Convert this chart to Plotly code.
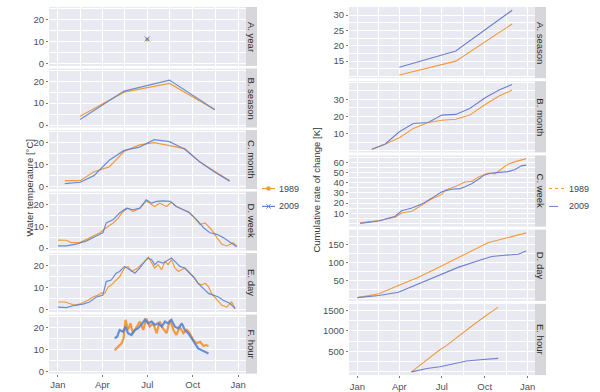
import plotly.graph_objects as go

# ---------------- data (day of year, values) ----------------
month_ticks = [0, 90, 181, 273, 365]
month_labels = ["Jan", "Apr", "Jul", "Oct", "Jan"]
month_minor = [45, 135, 227, 319]
series_names = ["1989", "2009"]

# Left: water temperature [°C]
year_days = [181]
year_1989 = [11.0]
year_2009 = [11.2]

season_days = [45, 134, 226, 318]
season_1989 = [4.0, 15.0, 19.0, 7.0]
season_2009 = [2.5, 15.5, 20.5, 7.0]

month_days = [14, 45, 73, 104, 134, 165, 195, 226, 257, 287, 318, 348]
month_1989 = [2.7, 2.7, 6.8, 9.0, 16.0, 19.0, 20.0, 18.6, 17.3, 11.3, 6.8, 2.7]
month_2009 = [1.4, 2.0, 5.0, 12.0, 16.5, 18.0, 21.4, 20.5, 17.0, 11.3, 6.5, 2.5]

week_days_1989 = [0, 17, 27, 44, 58, 71, 85, 98, 112, 122, 132, 142, 152, 166, 179, 186,
                  196, 206, 220, 230, 240, 254, 264, 274, 288, 298, 311, 322, 332, 342, 355, 362]
week_1989 = [3.7, 3.6, 2.5, 2.5, 4.0, 5.5, 7.0, 9.3, 11.5, 13.7, 16.7, 18.2, 16.7, 18.2, 21.5, 20.5,
             19.0, 20.5, 19.0, 21.0, 19.0, 17.5, 16.7, 14.5, 10.7, 11.5, 8.5, 4.8, 1.8, 1.0, 2.5, 1.0]
week_days_2009 = [0, 17, 37, 58, 78, 91, 98, 112, 125, 139, 152, 166, 179, 190, 200, 213,
                  227, 240, 254, 267, 281, 295, 308, 322, 335, 349, 362]
week_2009 = [1.0, 1.0, 1.8, 3.3, 5.5, 7.0, 11.5, 13.0, 16.0, 18.2, 17.5, 18.2, 22.0, 20.5, 21.3, 21.5,
             21.3, 19.0, 17.5, 16.0, 13.0, 9.3, 7.0, 6.3, 4.8, 2.5, 0.6]

day_days_1989 = [0, 14, 24, 34, 47, 61, 71, 81, 88, 95, 102, 108, 115, 125, 135, 142, 149, 156, 162,
                 169, 176, 183, 190, 196, 203, 210, 217, 223, 230, 237, 244, 251, 257, 264, 271, 278,
                 284, 291, 298, 305, 311, 322, 332, 342, 352, 359]
day_1989 = [3.5, 3.5, 2.8, 2.0, 2.8, 4.3, 5.8, 6.6, 7.7, 7.4, 10.5, 11.2, 12.8, 15.0, 19.0, 19.7, 17.4,
            18.2, 19.0, 20.5, 22.0, 24.0, 21.2, 19.0, 20.5, 18.2, 22.0, 20.5, 22.8, 19.0, 17.4, 18.2,
            19.0, 17.4, 15.8, 14.3, 12.0, 11.2, 12.0, 10.5, 7.4, 4.3, 2.0, 1.2, 3.5, 0.5]
day_days_2009 = [0, 17, 34, 51, 64, 78, 91, 98, 108, 118, 125, 135, 146, 156, 166, 176, 183, 190, 196,
                 203, 213, 220, 230, 237, 247, 257, 264, 274, 284, 295, 305, 315, 325, 335, 349, 359]
day_2009 = [1.2, 0.9, 2.0, 2.5, 3.5, 5.8, 6.6, 12.8, 13.5, 16.6, 17.4, 19.7, 18.2, 16.6, 19.0, 22.0,
            23.5, 22.8, 20.5, 22.0, 21.2, 22.0, 23.5, 22.0, 19.7, 19.0, 17.4, 15.0, 12.0, 9.7, 7.4,
            6.6, 5.8, 4.3, 2.8, 0.5]

hour_days_1989 = [115, 122, 129, 133, 137, 142, 147, 152, 159, 166, 173, 179, 186, 193, 200, 206,
                  213, 220, 227, 234, 240, 247, 254, 261, 267, 274, 281, 288, 295, 300, 305]
hour_1989 = [9.6, 11.1, 12.7, 15.0, 23.4, 18.8, 21.8, 17.3, 20.3, 22.6, 18.8, 24.1, 20.3, 21.8, 17.3,
             22.6, 19.5, 17.3, 23.4, 18.8, 16.5, 20.3, 17.3, 18.8, 17.3, 14.2, 12.7, 13.4, 11.5,
             11.9, 11.5]
hour_days_2009 = [115, 120, 125, 132, 137, 142, 149, 156, 162, 169, 176, 183, 190, 196, 203, 210,
                  217, 223, 230, 237, 244, 251, 257, 264, 271, 278, 284, 291, 298, 305]
hour_2009 = [15.0, 15.7, 18.8, 18.0, 20.3, 17.3, 16.5, 18.8, 19.5, 21.1, 23.4, 21.8, 22.6, 21.1,
             21.8, 20.3, 22.6, 21.8, 23.4, 20.3, 19.5, 21.8, 18.8, 17.3, 15.0, 12.7, 10.4, 9.6,
             8.9, 8.1]

# Right: cumulative rate of change [K]
cs_days = [90, 211, 332]
cs_1989 = [10.5, 15.0, 27.1]
cs_2009 = [13.0, 18.3, 31.6]

cm_days = [31, 59, 90, 120, 152, 181, 211, 241, 274, 304, 332]
cm_1989 = [0.8, 3.7, 7.5, 13.0, 16.5, 17.8, 18.4, 20.8, 27.0, 32.0, 35.5]
cm_2009 = [0.8, 3.7, 11.0, 15.9, 16.5, 20.8, 21.2, 24.7, 31.0, 35.5, 38.8]

cw_days_1989 = [6, 46, 81, 95, 117, 138, 159, 181, 188, 209, 231, 245, 259, 280, 295, 309, 323,
                337, 352, 362]
cw_1989 = [0.7, 2.9, 6.1, 10.3, 12.0, 18.3, 24.0, 28.6, 32.7, 36.0, 40.8, 41.4, 45.6, 49.7, 48.8,
           53.6, 58.4, 60.6, 62.5, 63.8]
cw_days_2009 = [6, 46, 81, 95, 117, 138, 159, 181, 202, 220, 231, 245, 259, 273, 288, 309, 323,
                337, 352, 362]
cw_2009 = [0.0, 2.3, 7.1, 12.5, 15.1, 19.0, 24.7, 31.2, 33.7, 34.3, 36.0, 39.1, 43.3, 47.8, 49.7,
           50.4, 51.0, 52.9, 56.7, 57.4]

cd_days_1989 = [0, 46, 88, 131, 174, 216, 259, 280, 309, 337, 362]
cd_1989 = [2, 13, 36, 59, 87, 115, 142.5, 156, 166, 175, 184]
cd_days_2009 = [0, 46, 88, 131, 174, 216, 259, 288, 316, 345, 362]
cd_2009 = [2, 8, 17, 41, 64, 87, 105.5, 117.5, 121, 124, 133]

ch_days_1989 = [116, 149, 177, 191, 220, 249, 277, 302]
ch_1989 = [0, 290, 540, 640, 900, 1150, 1380, 1580]
ch_days_2009 = [116, 149, 177, 206, 234, 263, 302]
ch_2009 = [0, 84, 124, 202, 266, 297, 330]

left_labels = ["A. year", "B. season", "C. month", "D. week", "E. day", "F. hour"]
right_labels = ["A. season", "B. month", "C. week", "D. day", "E. hour"]
left_yticks = [0, 10, 20]
right_yticks = [[15, 20, 25, 30], [10, 20, 30], [10, 20, 30, 40, 50, 60], [50, 100, 150],
                [500, 1000, 1500]]

# ---------------- styling ----------------
W, H = 600, 392
ORANGE = "#f29a3c"
BLUE = "#5a84d4"
BLUE2 = "#6d7fd0"
PANEL_BG = "#e9eaf1"
STRIP_BG = "#d7d7db"
TICK_C = "#50505a"
FONT = "Liberation Sans, Arial, sans-serif"

left_data = [
    (year_days, year_1989, year_days, year_2009),
    (season_days, season_1989, season_days, season_2009),
    (month_days, month_1989, month_days, month_2009),
    (week_days_1989, week_1989, week_days_2009, week_2009),
    (day_days_1989, day_1989, day_days_2009, day_2009),
    (hour_days_1989, hour_1989, hour_days_2009, hour_2009),
]
right_data = [
    (cs_days, cs_1989, cs_days, cs_2009),
    (cm_days, cm_1989, cm_days, cm_2009),
    (cw_days_1989, cw_1989, cw_days_2009, cw_2009),
    (cd_days_1989, cd_1989, cd_days_2009, cd_2009),
    (ch_days_1989, ch_1989, ch_days_2009, ch_2009),
]


def ydom(top_px, bottom_px, n, gap, i):
    h = (bottom_px - top_px - gap * (n - 1)) / n
    t = top_px + i * (h + gap)
    return [1 - (t + h) / H, 1 - t / H]


fig = go.Figure()
layout = {}
shapes = []
annotations = []
XR = [-18, 381]


def add_panel(k, xdom, yd, yrange, yticks, minor_dt, show_x, label, strip_x):
    layout[f"xaxis{k}"] = dict(
        domain=xdom, anchor=f"y{k}", range=XR, tickmode="array",
        tickvals=month_ticks, ticktext=month_labels, showticklabels=show_x,
        ticks="outside" if show_x else "", ticklen=2, tickcolor="#777",
        tickfont=dict(size=9.5, color=TICK_C, family=FONT),
        showgrid=True, gridcolor="white", gridwidth=1, zeroline=False, showline=False,
        minor=dict(tickmode="array", tickvals=month_minor, showgrid=True,
                   gridcolor="white", gridwidth=0.5, ticks=""),
    )
    layout[f"yaxis{k}"] = dict(
        domain=yd, anchor=f"x{k}", range=yrange, tickmode="array", tickvals=yticks,
        ticks="outside", ticklen=2, tickcolor="#777",
        tickfont=dict(size=9.5, color=TICK_C, family=FONT),
        showgrid=True, gridcolor="white", gridwidth=1, zeroline=False, showline=False,
        minor=dict(tick0=0, dtick=minor_dt, showgrid=True, gridcolor="white",
                   gridwidth=0.5, ticks=""),
    )
    shapes.append(dict(type="rect", xref="paper", yref="paper", x0=strip_x[0] / W,
                       x1=strip_x[1] / W, y0=yd[0], y1=yd[1], fillcolor=STRIP_BG,
                       line=dict(width=0), layer="below"))
    annotations.append(dict(xref="paper", yref="paper", x=(strip_x[0] + strip_x[1]) / 2 / W,
                            y=(yd[0] + yd[1]) / 2, text=label, textangle=90, showarrow=False,
                            font=dict(size=9.5, color="#2b2b2b", family=FONT),
                            xanchor="center", yanchor="middle"))


# Left panels
left_xdom = [49 / W, 246 / W]
left_range = [-1.1, 25.8]
for i, (d89, v89, d09, v09) in enumerate(left_data):
    k = i + 1
    yd = ydom(7, 376.5, 6, 2.5, i)
    add_panel(k, left_xdom, yd, left_range, left_yticks, 5, i == 5, left_labels[i], (246, 257))
    if i == 0:
        fig.add_trace(go.Scatter(x=d89, y=v89, mode="markers", xaxis=f"x{k}", yaxis=f"y{k}",
                                 marker=dict(color=ORANGE, size=4, symbol="circle"),
                                 showlegend=False, hoverinfo="skip"))
        fig.add_trace(go.Scatter(x=d09, y=v09, mode="markers", xaxis=f"x{k}", yaxis=f"y{k}",
                                 marker=dict(color=BLUE, size=5, symbol="x-thin",
                                             line=dict(color=BLUE, width=1)),
                                 showlegend=False, hoverinfo="skip"))
    else:
        w = 2.2 if i == 5 else 1.2
        fig.add_trace(go.Scatter(x=d89, y=v89, mode="lines", xaxis=f"x{k}", yaxis=f"y{k}",
                                 line=dict(color=ORANGE, width=w), showlegend=False,
                                 hoverinfo="skip"))
        fig.add_trace(go.Scatter(x=d09, y=v09, mode="lines", xaxis=f"x{k}", yaxis=f"y{k}",
                                 line=dict(color=BLUE, width=w), showlegend=False,
                                 hoverinfo="skip", opacity=0.9))

# Right panels
right_xdom = [349 / W, 535 / W]
for i, (d89, v89, d09, v09) in enumerate(right_data):
    k = i + 7
    yd = ydom(7, 378, 5, 3, i)
    lo = min(min(v89), min(v09))
    hi = max(max(v89), max(v09))
    pad = 0.05 * (hi - lo)
    ticks = right_yticks[i]
    step = ticks[1] - ticks[0]
    add_panel(k, right_xdom, yd, [lo - pad, hi + pad], ticks, step / 2, i == 4,
              right_labels[i], (535, 546))
    fig.add_trace(go.Scatter(x=d89, y=v89, mode="lines", xaxis=f"x{k}", yaxis=f"y{k}",
                             line=dict(color=ORANGE, width=1.1), showlegend=False,
                             hoverinfo="skip"))
    fig.add_trace(go.Scatter(x=d09, y=v09, mode="lines", xaxis=f"x{k}", yaxis=f"y{k}",
                             line=dict(color=BLUE2, width=1.1), showlegend=False,
                             hoverinfo="skip"))

# ---------------- legends (drawn as key shapes + labels) ----------------
LEG_Y = [190, 208]
leg_font = dict(size=9, color="#444", family=FONT)
# left legend: line + marker keys
left_key = (262, 275)
for j, (col, nm) in enumerate(zip([ORANGE, BLUE], series_names)):
    yy = 1 - LEG_Y[j] / H
    shapes.append(dict(type="line", xref="paper", yref="paper", x0=left_key[0] / W,
                       x1=left_key[1] / W, y0=yy, y1=yy, line=dict(color=col, width=1.2)))
    cx = (left_key[0] + left_key[1]) / 2
    if j == 0:
        shapes.append(dict(type="circle", xref="paper", yref="paper",
                           x0=(cx - 2) / W, x1=(cx + 2) / W, y0=yy - 2 / H, y1=yy + 2 / H,
                           fillcolor=col, line=dict(color=col, width=0.5)))
    else:
        for s in (-1, 1):
            shapes.append(dict(type="line", xref="paper", yref="paper",
                               x0=(cx - 2.2) / W, x1=(cx + 2.2) / W,
                               y0=yy - s * 2.2 / H, y1=yy + s * 2.2 / H,
                               line=dict(color=col, width=1)))
    annotations.append(dict(xref="paper", yref="paper", x=(left_key[1] + 2) / W, y=yy,
                            text=nm, showarrow=False, xanchor="left", yanchor="middle",
                            font=leg_font))
# right legend: dotted / dashed keys
right_key = (549, 565)
for j, (col, nm, dash) in enumerate(zip([ORANGE, BLUE2], series_names, ["dot", "dash"])):
    yy = 1 - LEG_Y[j] / H
    shapes.append(dict(type="line", xref="paper", yref="paper", x0=right_key[0] / W,
                       x1=right_key[1] / W, y0=yy, y1=yy,
                       line=dict(color=col, width=1, dash=dash)))
    annotations.append(dict(xref="paper", yref="paper", x=(right_key[1] + 2) / W, y=yy,
                            text=nm, showarrow=False, xanchor="left", yanchor="middle",
                            font=leg_font))

# Axis titles
annotations.append(dict(xref="paper", yref="paper", x=30 / W, y=1 - 190 / H,
                        text="Water temperature [°C]", textangle=-90, showarrow=False,
                        xanchor="center", yanchor="middle",
                        font=dict(size=9.5, color="#333", family=FONT)))
annotations.append(dict(xref="paper", yref="paper", x=317 / W, y=1 - 192 / H,
                        text="Cumulative rate of change [K]", textangle=-90, showarrow=False,
                        xanchor="center", yanchor="middle",
                        font=dict(size=9.5, color="#333", family=FONT)))

fig.update_layout(
    width=W, height=H, margin=dict(l=0, r=0, t=0, b=0),
    paper_bgcolor="white", plot_bgcolor=PANEL_BG, showlegend=False,
    shapes=shapes, annotations=annotations,
    **layout,
)

fig.write_html("out.html", config={"displayModeBar": False},
               post_script="document.body.style.margin='0px';")
